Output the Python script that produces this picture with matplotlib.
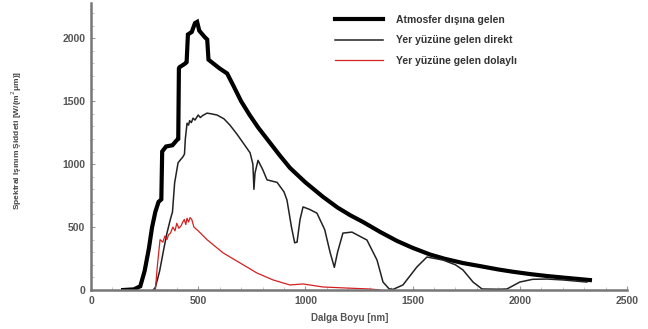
import matplotlib
matplotlib.use("Agg")
import matplotlib.pyplot as plt
from matplotlib.ticker import MultipleLocator

plt.rcParams['font.family'] = ['Liberation Sans', 'DejaVu Sans']

# Extraterrestrial (outside atmosphere)
ext_nm = [150, 200, 230, 250, 270, 285, 300, 315, 328, 332, 350, 380, 400, 407,
          410, 413, 440, 446, 452, 470, 485, 495, 505, 530, 542, 548, 570, 600,
          635, 665, 700, 740, 780, 830, 880, 928, 1000, 1082, 1150, 1208, 1269,
          1350, 1427, 1500, 1581, 1650, 1735, 1814, 1900, 1968, 2050, 2127, 2200,
          2327]
ext_val = [0, 5, 30, 150, 330, 500, 620, 700, 720, 1100, 1140, 1150, 1190, 1200,
           1760, 1770, 1800, 1810, 2030, 2050, 2120, 2130, 2060, 2010, 1990, 1830,
           1800, 1760, 1720, 1620, 1500, 1390, 1290, 1180, 1070, 970, 855, 740,
           655, 595, 540, 460, 390, 335, 282, 248, 214, 190, 163, 145, 126, 111,
           99, 79]

# Direct at ground level
dir_nm = [290, 300, 320, 340, 354, 370, 380, 390, 406, 415, 428, 436, 440, 448,
          455, 460, 468, 476, 485, 500, 510, 520, 541, 560, 588, 620, 648, 680,
          709, 742, 755, 760, 765, 779, 800, 821, 868, 900, 914, 935, 950, 961,
          975, 989, 1020, 1054, 1090, 1115, 1135, 1150, 1175, 1217, 1287, 1334,
          1362, 1390, 1409, 1455, 1520, 1567, 1642, 1700, 1735, 1782, 1824, 1900,
          1940, 2000, 2060, 2127, 2200, 2313]
dir_val = [0, 20, 150, 330, 450, 560, 620, 850, 1010, 1030, 1056, 1080, 1200, 1325,
           1310, 1345, 1330, 1365, 1350, 1390, 1370, 1385, 1405, 1400, 1390, 1360,
           1310, 1240, 1170, 1090, 1000, 800, 930, 1030, 960, 875, 855, 780, 715,
           500, 375, 380, 560, 660, 640, 610, 480, 300, 180, 300, 452, 460, 397,
           238, 63, 10, 5, 40, 183, 262, 238, 200, 159, 63, 8, 6, 8, 63, 85, 87,
           80, 63]

# Diffuse at ground level
dif_nm = [300, 310, 322, 335, 345, 354, 362, 370, 382, 392, 400, 410, 420, 428,
          435, 442, 448, 455, 462, 470, 480, 500, 541, 616, 695, 774, 849, 928,
          989, 1082, 1200, 1300, 1350]
dif_val = [0, 200, 400, 380, 430, 400, 440, 450, 500, 470, 530, 490, 510, 540,
           560, 520, 570, 540, 575, 560, 500, 470, 400, 295, 215, 135, 80, 40, 48,
           24, 15, 8, 0]

x_ticks = [0, 500, 1000, 1500, 2000, 2500]
y_ticks = [0, 500, 1000, 1500, 2000]
labels = ["Atmosfer dışına gelen", "Yer yüzüne gelen direkt", "Yer yüzüne gelen dolaylı"]

fig = plt.figure(figsize=(6.48, 3.29), dpi=100)
ax = fig.add_axes([91 / 648, 1 - 290 / 329, (627 - 91) / 648, (290 - 3) / 329])

ax.plot(ext_nm, ext_val, color='black', lw=3.0, label=labels[0], solid_joinstyle='miter')
ax.plot(dir_nm, dir_val, color='#222222', lw=1.1, label=labels[1])
ax.plot(dif_nm, dif_val, color='#d42020', lw=0.9, label=labels[2])

ax.set_xlim(0, 2500)
ax.set_ylim(0, 2280)
ax.set_xticks(x_ticks)
ax.set_yticks(y_ticks)
ax.xaxis.set_minor_locator(MultipleLocator(100))
ax.yaxis.set_minor_locator(MultipleLocator(100))

for s in ['top', 'right']:
    ax.spines[s].set_visible(False)
for s in ['left', 'bottom']:
    ax.spines[s].set_color('#777777')
    ax.spines[s].set_linewidth(1.8)

ax.tick_params(axis='both', which='major', direction='in', length=3, width=0.8,
               colors='#999999', labelcolor='#555555', labelsize=7.5, pad=4)
ax.tick_params(axis='both', which='minor', direction='in', length=2, width=0.6,
               colors='#bbbbbb')
for lab in ax.get_xticklabels() + ax.get_yticklabels():
    lab.set_fontweight('bold')

fig.text(350 / 648, 1 - 318 / 329, "Dalga Boyu [nm]", ha='center', va='center',
         fontsize=7, fontweight='bold', color='#555555')
fig.text(17 / 648, 1 - 140 / 329, "Spektral Işınım Şiddeti [W/(m$^2$μm)]",
         rotation=90, ha='center', va='center', fontsize=6, fontweight='bold',
         color='#444444')

leg = ax.legend(loc='upper left', bbox_to_anchor=(335 / 648, 1 - 15 / 329),
                bbox_transform=fig.transFigure, frameon=False, fontsize=7.5,
                handlelength=4.6, handletextpad=1.3, labelspacing=1.0,
                borderaxespad=0, borderpad=0)
for t in leg.get_texts():
    t.set_fontweight('bold')
    t.set_color('#333333')

fig.savefig("out.png", dpi=100)
